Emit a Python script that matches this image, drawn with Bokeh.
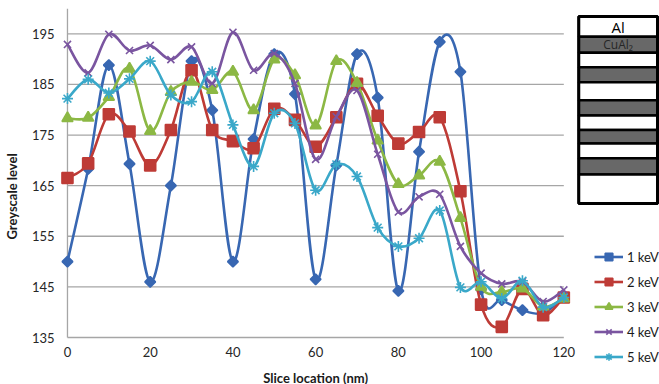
import math
import numpy as np
from bokeh.plotting import figure
from bokeh.models import (Range1d, FixedTicker, Legend, LegendItem,
                          ColumnDataSource)
from bokeh.core.properties import value
from bokeh.embed import file_html
from bokeh.resources import INLINE

# ---------------- data ----------------
slice_nm = [0, 5, 10, 15, 20, 25, 30, 35, 40, 45, 50, 55, 60,
            65, 70, 75, 80, 85, 90, 95, 100, 105, 110, 115, 120]

kev_1 = [150.0, 168.3, 188.8, 169.3, 146.0, 165.0, 189.6, 179.9, 150.0, 174.2,
         191.0, 183.1, 146.5, 169.0, 191.0, 182.4, 144.2, 171.7, 193.4, 187.5,
         144.5, 142.4, 140.4, 139.8, 143.0]
kev_2 = [166.5, 169.4, 179.1, 175.7, 169.0, 176.0, 187.8, 176.0, 173.8, 172.4,
         180.2, 178.0, 172.7, 178.5, 185.1, 178.8, 173.3, 175.6, 178.5, 163.9,
         141.5, 137.1, 144.6, 139.4, 142.9]
kev_3 = [178.3, 178.4, 182.5, 188.1, 175.8, 183.5, 185.5, 183.9, 187.5, 179.9,
         189.9, 186.8, 176.9, 189.6, 185.3, 173.9, 165.3, 167.0, 169.7, 158.6,
         145.0, 144.0, 144.7, 141.1, 142.7]
kev_4 = [192.9, 187.3, 194.9, 191.7, 192.7, 189.9, 192.4, 185.2, 195.3, 187.8,
         191.1, 185.2, 170.2, 178.6, 183.8, 171.2, 159.8, 162.8, 163.3, 153.0,
         147.7, 145.6, 146.0, 142.1, 144.4]
kev_5 = [182.2, 186.0, 183.3, 186.1, 189.6, 182.9, 181.6, 187.5, 177.0, 168.8,
         179.3, 177.3, 164.1, 169.2, 166.8, 156.7, 153.0, 154.6, 160.1, 144.9,
         146.0, 142.7, 146.2, 141.0, 142.9]

series_names = ["1 keV", "2 keV", "3 keV", "4 keV", "5 keV"]
series_values = [kev_1, kev_2, kev_3, kev_4, kev_5]

x_ticks = [0, 20, 40, 60, 80, 100, 120]
y_ticks = [135, 145, 155, 165, 175, 185, 195]
x_title = "Slice location (nm)"
y_title = "Greyscale level"

# schematic multilayer (top to bottom)
layer_material = ["Al", "CuAl2", "Al", "CuAl2", "Al", "CuAl2", "Al", "CuAl2",
                  "Al", "CuAl2", "Al"]
layer_label = ["Al", "CuAl₂", "", "", "", "", "", "", "", "", ""]
layer_thickness = [20.2, 16.0, 14.6, 14.9, 18.0, 15.3, 14.5, 13.5, 14.8, 16.2, 29.0]

# ---------------- style / layout ----------------
colors = ["#3867b2", "#be3b36", "#8cb844", "#7a55a0", "#3aa8c9"]
markers = ["square", "square", "triangle", "x", "asterisk"]
msizes = [7.5, 11, 11, 10, 11]
mangles = [math.pi / 4, 0, 0, 0, 0]
grid_color = "#a6a6a6"
font = "Lato"

W, H = 659, 384
frame_left, frame_top = 57, 8
x_origin_px, x_end_px = 65, 563          # pixel columns of the first/last x tick
y_top_val, y_base_px = 200, 337          # value at frame top, pixel row of y_ticks[0]
px_per_nm = (x_end_px - x_origin_px) / (x_ticks[-1] - x_ticks[0])
x_start = x_ticks[0] - (x_origin_px - frame_left) / px_per_nm
x_end = x_start + (W - frame_left) / px_per_nm
px_per_grey = (y_base_px - frame_top) / (y_top_val - y_ticks[0])
y_start = y_ticks[0] - (H - y_base_px) / px_per_grey

p = figure(width=W, height=H, output_backend="svg", toolbar_location=None,
           x_range=Range1d(x_start, x_end), y_range=Range1d(y_start, y_top_val),
           x_axis_location=None,
           min_border_left=frame_left, min_border_right=0,
           min_border_top=frame_top, min_border_bottom=0)
p.outline_line_color = None
p.background_fill_color = "white"
p.border_fill_color = "white"
p.xgrid.visible = False
p.ygrid.visible = False

# y axis (real axis in the left panel)
ya = p.yaxis[0]
ya.ticker = FixedTicker(ticks=y_ticks)
ya.axis_line_color = None
ya.major_tick_line_color = None
ya.minor_tick_line_color = None
ya.major_tick_out = 0
ya.major_tick_in = 0
ya.minor_tick_out = 0
ya.minor_tick_in = 0
ya.major_label_standoff = 5
ya.major_label_text_font = font
ya.major_label_text_font_size = "13px"
ya.major_label_text_color = "#262626"
ya.axis_label = y_title
ya.axis_label_standoff = 9
ya.axis_label_text_font = font
ya.axis_label_text_font_style = "bold"
ya.axis_label_text_font_size = "13px"
ya.axis_label_text_color = "#1a1a1a"

# axis lines and horizontal gridlines
gy = y_ticks[1:]
p.segment(x0=[slice_nm[0]] * len(gy), x1=[slice_nm[-1]] * len(gy), y0=gy, y1=gy,
          line_color=grid_color, line_width=1.3)
p.segment(x0=[x_ticks[0], x_ticks[0]], x1=[x_ticks[-1], x_ticks[0]],
          y0=[y_ticks[0], y_ticks[0]], y1=[y_ticks[0], y_top_val],
          line_color=grid_color, line_width=1.3)

# x tick labels and x title beneath the base line
p.text(x=x_ticks, y=[y_ticks[0]] * len(x_ticks), text=[str(t) for t in x_ticks],
       y_offset=9, text_align="center", text_baseline="top",
       text_font=value(font), text_font_size="13px", text_color="#262626")
p.text(x=[(x_ticks[0] + x_ticks[-1]) / 2], y=[y_ticks[0]], text=[x_title],
       y_offset=40, text_align="center", text_baseline="middle",
       text_font=value(font), text_font_style="bold", text_font_size="13px",
       text_color="#1a1a1a")


def smooth_controls(xs, ys):
    x = np.asarray(xs, float)
    y = np.asarray(ys, float)
    n = len(x)
    xp = np.concatenate([[x[0]], x, [x[-1]]])
    yp = np.concatenate([[y[0]], y, [y[-1]]])
    cx0 = x[:-1] + (xp[2:n + 1] - xp[0:n - 1]) / 6
    cy0 = y[:-1] + (yp[2:n + 1] - yp[0:n - 1]) / 6
    cx1 = x[1:] - (xp[3:n + 2] - xp[1:n]) / 6
    cy1 = y[1:] - (yp[3:n + 2] - yp[1:n]) / 6
    return dict(x0=x[:-1], y0=y[:-1], x1=x[1:], y1=y[1:],
                cx0=cx0, cy0=cy0, cx1=cx1, cy1=cy1)


items = []
for name, vals, c, m, s, a in zip(series_names, series_values, colors, markers,
                                  msizes, mangles):
    bz = p.bezier(source=ColumnDataSource(smooth_controls(slice_nm, vals)),
                  x0="x0", y0="y0", x1="x1", y1="y1",
                  cx0="cx0", cy0="cy0", cx1="cx1", cy1="cy1",
                  line_color=c, line_width=2.6)
    sc = p.scatter(slice_nm, vals, marker=m, size=s, angle=a,
                   fill_color=c, line_color=c, line_width=1.6)
    items.append(LegendItem(label=name, renderers=[bz, sc]))

legend_left_px, legend_bottom_px = 592, 366
legend = Legend(items=items,
                location=(legend_left_px - frame_left, H - legend_bottom_px),
                glyph_width=29, glyph_height=19, label_height=19, spacing=6,
                padding=0, margin=0, border_line_color=None,
                background_fill_alpha=0, label_standoff=4,
                label_text_font=font, label_text_font_size="13px",
                label_text_color="#1a1a1a")
p.add_layout(legend)

# ---------------- schematic layer stack ----------------
box_left_px, box_right_px, box_top_px = 578, 657, 16
px_per_u = box_right_px - box_left_px
p.extra_x_ranges = {"diag": Range1d(-(box_left_px - frame_left) / px_per_u,
                                    (W - box_left_px) / px_per_u)}
p.extra_y_ranges = {"diag": Range1d(H - box_top_px, frame_top - box_top_px)}
bounds = np.concatenate([[0], np.cumsum(layer_thickness)])
fills = ["white" if mat == "Al" else "#686868" for mat in layer_material]
p.quad(left=0, right=1, top=bounds[:-1], bottom=bounds[1:], fill_color=fills,
       line_color="black", line_width=2.5,
       x_range_name="diag", y_range_name="diag")
p.quad(left=[0], right=[1], top=[bounds[0]], bottom=[bounds[-1]],
       fill_color=None, line_color="black", line_width=3,
       x_range_name="diag", y_range_name="diag")
lab_idx = [i for i, t in enumerate(layer_label) if t]
p.text(x=[0.5] * len(lab_idx),
       y=[(bounds[i] + bounds[i + 1]) / 2 for i in lab_idx],
       text=[layer_label[i] for i in lab_idx],
       text_font_size=["15px" if layer_material[i] == "Al" else "12px" for i in lab_idx],
       text_color=["black" if layer_material[i] == "Al" else "#262626" for i in lab_idx],
       text_align="center", text_baseline="middle", text_font=value("Open Sans"),
       x_range_name="diag", y_range_name="diag")

open("out.html", "w").write(file_html(p, INLINE))
